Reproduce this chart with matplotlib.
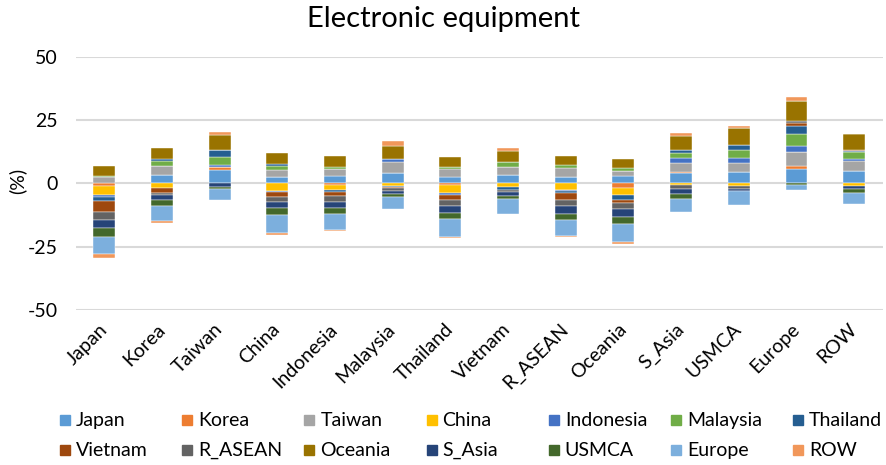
import matplotlib.pyplot as plt
from matplotlib.patches import Rectangle
import numpy as np

plt.rcParams['font.family'] = ['Lato', 'DejaVu Sans']

regions = ['Japan', 'Korea', 'Taiwan', 'China', 'Indonesia', 'Malaysia', 'Thailand',
           'Vietnam', 'R_ASEAN', 'Oceania', 'S_Asia', 'USMCA', 'Europe', 'ROW']

# one list per series (contribution in % to each bar)
japan     = [0, 3.3, 5.2, 2.6, 3.0, 4.3, 2.7, 3.5, 2.7, 3.0, 4.0, 4.4, 5.6, 4.9]
korea     = [-0.9, 0, 1.3, 0, -0.4, 0, -0.5, 0, 0, -1.7, 0.6, 0, 1.3, 0]
taiwan    = [2.6, 3.7, 0, 2.6, 2.8, 4.3, 3.2, 3.1, 3.4, 1.8, 3.6, 3.9, 5.6, 3.9]
china     = [-3.7, -1.6, 0, -2.9, -2.2, -0.9, -3.2, -1.3, -2.6, -2.8, -0.6, -0.8, 0, -0.8]
indonesia = [-0.9, 0, 0.8, -0.6, 0, 1.0, -0.8, 0, -0.5, 0, 1.8, 1.8, 2.5, 0.8]
malaysia  = [0.3, 1.8, 3.1, 1.6, 0.8, 0, 0.6, 1.8, 1.4, 1.3, 2.2, 3.2, 4.4, 2.7]
thailand  = [-1.3, 0.8, 2.9, 0.8, -0.9, -0.5, 0, -1.3, -0.8, -1.9, 0.9, 2.1, 3.5, 0.5]
vietnam   = [-4.6, -2.2, 0, -1.7, -1.3, -0.5, -1.9, 0, -2.7, -1.4, 0, 0, 1.0, 0.5]
r_asean   = [-3.0, -0.8, 0, -2.2, -2.6, -1.0, -2.6, -0.9, -2.2, -2.2, -1.5, -1.3, 0.9, 0]
oceania   = [3.9, 4.6, 5.9, 4.5, 4.4, 5.4, 4.1, 4.4, 3.5, 3.6, 5.8, 6.7, 8.0, 6.2]
s_asia    = [-3.3, -2.0, -1.2, -2.2, -2.3, -1.2, -2.7, -1.3, -3.1, -3.2, -2.1, -1.0, 0, -1.3]
usmca     = [-3.5, -2.1, -0.8, -3.0, -2.5, -1.2, -2.5, -1.3, -2.6, -3.0, -1.9, 0, -0.5, -1.8]
europe    = [-6.8, -6.3, -4.5, -6.8, -6.2, -4.9, -6.9, -5.8, -6.3, -6.9, -5.2, -5.5, -1.9, -4.3]
row       = [-1.3, -0.5, 1.2, -0.8, -0.5, 1.7, -0.5, 1.3, -0.4, -0.8, 0.9, 0.5, 1.4, 0]

series = [japan, korea, taiwan, china, indonesia, malaysia, thailand,
          vietnam, r_asean, oceania, s_asia, usmca, europe, row]
colors = ['#5B9BD5', '#ED7D31', '#A5A5A5', '#FFC000', '#4472C4', '#70AD47', '#255E91',
          '#9E480E', '#636363', '#997300', '#264478', '#43682B', '#7CAFDD', '#F1975A']

W, H = 887, 465
fig = plt.figure(figsize=(W / 100, H / 100), dpi=100)
ax = fig.add_axes([75.5 / W, 1 - 310 / H, (883 - 75.5) / W, (310 - 57) / H])

x = np.arange(len(regions))
pos_base = np.zeros(len(regions))
neg_base = np.zeros(len(regions))
for name, vals, c in zip(regions, series, colors):
    v = np.array(vals, dtype=float)
    bottom = np.where(v >= 0, pos_base, neg_base)
    ax.bar(x, v, 0.38, bottom=bottom, color=c, edgecolor='white', linewidth=0.3, zorder=3)
    pos_base += np.clip(v, 0, None)
    neg_base += np.clip(v, None, 0)

ax.set_ylim(-50, 50)
ax.set_xlim(-0.5, len(regions) - 0.5)
ax.set_yticks([-50, -25, 0, 25, 50])
ax.set_yticklabels(['-50', '-25', '0', '25', '50'], fontsize=14)
ax.set_xticks(x)
ax.set_xticklabels(regions, rotation=45, ha='right', va='center',
                   rotation_mode='anchor', fontsize=14)
ax.tick_params(axis='y', length=0, pad=13)
ax.tick_params(axis='x', length=0, pad=12)
ax.grid(axis='y', color='#D9D9D9', linewidth=1.5, zorder=0)
for s in ax.spines.values():
    s.set_visible(False)

fig.text(17 / W, 1 - 181 / H, '(%)', rotation=90, fontsize=14, ha='center', va='center')
fig.text(0.5, 1 - 19 / H, 'Electronic equipment', fontsize=21, ha='center', va='center')

# legend drawn by hand: Excel spaces the entries evenly, row by row
for i, (name, c) in enumerate(zip(regions, colors)):
    col, r = i % 7, i // 7
    x0 = 60 + 122.2 * col
    yc = 420 + 30 * r
    fig.patches.append(Rectangle((x0 / W, 1 - (yc + 5) / H), 10 / W, 10 / H,
                                 transform=fig.transFigure, color=c))
    fig.text((x0 + 16) / W, 1 - yc / H, name, fontsize=14, ha='left', va='center')

fig.savefig('out.png', dpi=100)
